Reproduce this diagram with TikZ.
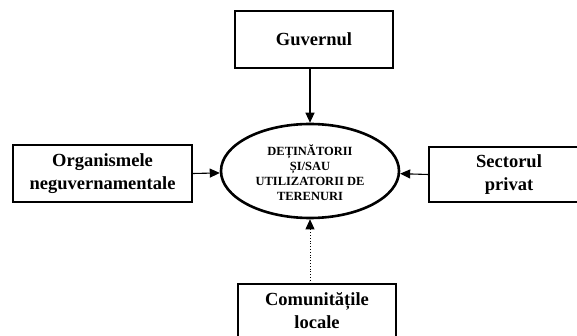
\documentclass[tikz,border=0pt]{standalone}
\usepackage{fontspec}
\setmainfont{Liberation Serif}
\usetikzlibrary{arrows.meta,shapes.geometric}
\begin{document}
\begin{tikzpicture}[x=1pt,y=-1pt,
  box/.style={draw,line width=1.2pt,inner sep=0pt,align=center,
    font=\bfseries\fontsize{18.5}{23}\selectfont},
  centre/.style={draw,ellipse,line width=2.6pt,inner sep=0pt,
    minimum width=178pt,minimum height=94pt,align=center,
    font=\bfseries\fontsize{12.5}{15}\selectfont},
  conn/.style={line width=1.1pt,-{Triangle[length=10pt,width=9pt]}},
  dotconn/.style={line width=0.8pt,dotted,-{Triangle[length=10pt,width=9pt]}}]
\useasboundingbox (0,0) rectangle (577,336);
\node[centre] (ell) at (310,171) {\raisebox{-7pt}[0pt][0pt]{\begin{tabular}{@{}c@{}}DEȚINĂTORII\\ȘI/SAU\\UTILIZATORII DE\\TERENURI\end{tabular}}};
\node[box,minimum width=158pt,minimum height=57pt] (gov) at (314,39.5) {Guvernul};
\node[box,minimum width=179pt,minimum height=57pt] (ngo) at (102.5,173.5) {Organismele\\neguvernamentale};
\node[box,minimum width=160pt,minimum height=55pt] (priv) at (509,174.5) {Sectorul\\privat};
\node[box,minimum width=158pt,minimum height=54pt] (com) at (317,311) {Comunitățile\\locale};
\draw[conn] (ell.north |- gov.south) -- (ell.north);
\draw[conn] (ngo.east) -- (ell);
\draw[conn] (priv.west) -- (ell);
\draw[dotconn] (ell.south |- com.north) -- (ell.south);
\end{tikzpicture}
\end{document}
